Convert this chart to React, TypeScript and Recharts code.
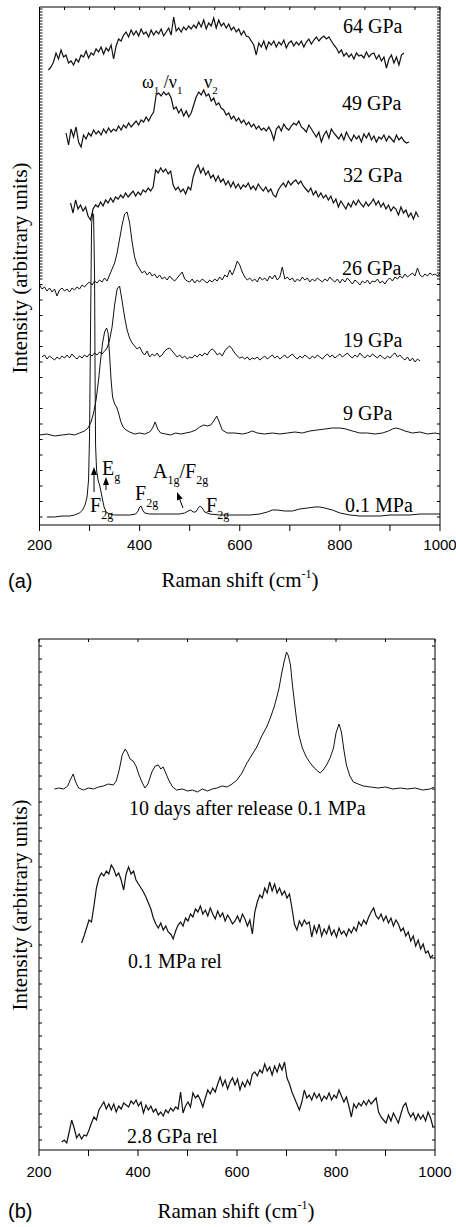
import { Line, LineChart, XAxis, YAxis } from "recharts";

// panel (a): intensities in plot units (0 = bottom of frame), x in cm-1
const gpa64Start = 218;
const gpa64 = [
  455, 458, 463, 472, 466, 475, 468, 470, 462, 464,
  460, 466, 463, 470, 468, 474, 467, 472, 470, 476,
  473, 478, 471, 477, 474, 480, 466, 479, 486, 484,
  490, 493, 488, 495, 490, 494, 489, 496, 491, 493,
  488, 495, 490, 494, 491, 496, 489, 493, 497, 490,
  508, 494, 497, 493, 498, 495, 499, 496, 500, 497,
  503, 498, 505, 496, 502, 499, 507, 497, 505, 499,
  502, 497, 501, 495, 498, 493, 496, 490, 494, 489,
  488, 484, 480, 470, 482, 478, 484, 476, 483, 480,
  484, 478, 483, 480, 485, 477, 482, 484, 479, 483,
  480, 484, 478, 483, 486, 481, 485, 488, 484, 487,
  489, 486, 488, 484, 480, 477, 472, 475, 469, 472,
  468, 471, 466, 472, 469, 470, 467, 473, 468, 471,
  472, 466, 470, 464, 468, 457, 466, 470, 462, 468,
  460, 470, 472,
];

const gpa49Start = 253;
const gpa49 = [
  392, 380, 396, 388, 398, 383, 378, 390, 386, 392,
  389, 395, 391, 394, 390, 396, 392, 397, 393, 396,
  394, 399, 395, 400, 397, 402, 398, 401, 404, 400,
  405, 403, 408, 404, 409, 413, 430, 432, 429, 433,
  430, 432, 427, 416, 418, 412, 416, 409, 414, 408,
  412, 420, 428, 433, 430, 435, 429, 431, 424, 427,
  420, 422, 417, 415, 410, 412, 406, 409, 404, 407,
  402, 405, 400, 403, 398, 401, 396, 399, 395, 397,
  394, 398, 393, 385, 396, 399, 394, 401, 397, 395,
  399, 402, 400, 404, 398, 396, 393, 400, 396, 392,
  388, 393, 383, 390, 394, 387, 396, 392, 389, 386,
  391, 385, 393, 388, 384, 390, 386, 389, 383, 391,
  387, 392, 385, 389, 383, 388, 386, 390, 384, 389,
  386, 383, 390, 385, 388, 384, 382, 383,
];

const gpa32Start = 262;
const gpa32 = [
  322, 312, 325, 316, 320, 314, 318, 309, 305, 316,
  320, 318, 323, 319, 325, 322, 327, 323, 328, 326,
  330, 327, 332, 328, 331, 334, 329, 333, 330, 335,
  333, 337, 334, 338, 355, 352, 357, 353, 356, 351,
  354, 340, 335, 338, 333, 336, 331, 338, 335, 348,
  356, 360, 352, 357, 350, 354, 347, 350, 344, 349,
  343, 346, 340, 344, 338, 343, 337, 341, 336, 340,
  338, 342, 336, 339, 335, 341, 337, 334, 338, 333,
  336, 330, 328, 335, 339, 342, 338, 344, 340, 343,
  345, 341, 344, 339, 336, 333, 337, 330, 334, 328,
  332, 327, 330, 325, 329, 322, 326, 318, 324, 320,
  316, 322, 318, 324, 320, 325, 321, 318, 323, 319,
  322, 326, 320, 324, 318, 322, 316, 320, 314, 318,
  316, 310, 318, 312, 315, 308, 312, 306, 313, 308,
];

const gpa26Start = 200;
const gpa26 = [
  240, 236, 238, 234, 237, 233, 236, 229, 235, 237,
  234, 236, 233, 237, 235, 238, 236, 240, 238, 241,
  243, 240, 244, 242, 245, 243, 247, 244, 250, 256,
  262, 272, 286, 300, 311, 313, 302, 283, 268, 260,
  256, 252, 254, 250, 253, 249, 251, 247, 250, 246,
  248, 245, 249, 246, 244, 247, 250, 253, 246, 244,
  243, 246, 242, 245, 243, 246, 244, 242, 245, 243,
  246, 244, 248, 245, 250, 248, 255, 250, 256, 264,
  260, 253, 248, 245, 247, 244, 246, 243, 248, 245,
  247, 244, 249, 246, 250, 245, 248, 258, 246, 248,
  245, 247, 243, 246, 244, 248, 245, 247, 243, 246,
  244, 247, 245, 243, 246, 244, 248, 245, 243, 246,
  242, 246, 243, 247, 244, 241, 245, 243, 240, 244,
  242, 245, 241, 244, 243, 246, 242, 244, 241, 245,
  247, 244, 248, 246, 249, 247, 251, 248, 250, 252,
  249, 257, 250, 248, 251, 249, 252, 250, 251, 249,
  252,
];

const gpa19Start = 205;
const gpa19 = [
  168, 170, 166, 169, 167, 165, 168, 166, 169, 167,
  170, 167, 171, 168, 166, 169, 167, 170, 168, 171,
  169, 172, 170, 173, 171, 174, 177, 185, 198, 220,
  236, 239, 224, 208, 195, 187, 182, 179, 176, 178,
  173, 170, 174, 168, 171, 169, 172, 168, 170, 174,
  176, 177, 174, 171, 168, 170, 167, 169, 166, 168,
  167, 170, 168, 171, 169, 172, 170, 174, 176, 174,
  170, 172, 169, 174, 177, 179, 176, 172, 169, 167,
  168, 166, 168, 165, 167, 166, 168, 165, 167, 169,
  166, 168, 170, 167, 169, 166, 168, 170, 167, 169,
  171, 168, 166, 169, 167, 170, 168, 166, 169, 167,
  170, 168, 166, 169, 171, 168, 170, 167, 169, 171,
  168, 170, 172, 169, 167, 170, 168, 172, 169, 167,
  170, 168, 171, 169, 167, 170, 168, 166, 169, 167,
  170, 172, 168, 170, 167, 165, 168, 164, 167, 163,
  166, 164,
];

const gpa9: [number, number][] = [
  [200, 90], [215, 91], [230, 89], [245, 90], [260, 91], [270, 90], [280, 92],
  [290, 94], [297, 97], [303, 103], [308, 112], [313, 125], [318, 145], [322, 165],
  [326, 182], [330, 193], [334, 197], [337, 192], [340, 170], [343, 145], [346, 128],
  [350, 121], [354, 118], [358, 112], [362, 104], [367, 98], [373, 95], [380, 93],
  [390, 91], [400, 92], [410, 91], [420, 93], [426, 97], [431, 103], [436, 96],
  [442, 92], [452, 91], [462, 90], [472, 92], [482, 91], [492, 92], [502, 93],
  [512, 95], [520, 98], [528, 100], [535, 99], [542, 100], [548, 104], [554, 109],
  [559, 103], [565, 95], [575, 92], [590, 92], [605, 91], [615, 92], [625, 94],
  [635, 92], [650, 91], [665, 92], [680, 91], [695, 92], [710, 93], [725, 92],
  [740, 94], [755, 95], [770, 96], [785, 97], [800, 97], [812, 96], [825, 94],
  [840, 92], [855, 92], [870, 91], [885, 92], [897, 94], [905, 96], [912, 97],
  [920, 96], [930, 94], [945, 92], [960, 93], [975, 91], [990, 92], [1000, 91],
];

const mpa01: [number, number][] = [
  [215, 8], [230, 8], [245, 9], [260, 9], [270, 10], [280, 12], [286, 15], [291, 20],
  [295, 28], [298, 45], [300, 90], [302, 200], [304, 300], [306, 312], [308, 310],
  [310, 250], [311, 150], [312, 80], [314, 55], [317, 45], [320, 40], [323, 33],
  [326, 25], [329, 18], [333, 13], [340, 11], [350, 10], [365, 10], [380, 10],
  [392, 11], [397, 14], [400, 18], [403, 19], [406, 15], [410, 12], [420, 11],
  [440, 11], [460, 11], [480, 11], [490, 12], [497, 14], [502, 15], [507, 13],
  [512, 13], [517, 17], [521, 19], [525, 17], [530, 13], [540, 11], [560, 10],
  [580, 10], [600, 10], [620, 10], [640, 11], [655, 13], [665, 15], [675, 15],
  [690, 14], [705, 14], [720, 16], [735, 17], [750, 18], [760, 18], [770, 17],
  [785, 15], [800, 12], [820, 10], [840, 9], [860, 9], [880, 9], [900, 10],
  [920, 10], [940, 10], [960, 11], [980, 11], [1000, 11],
];

// panel (b)
const tenDays: [number, number][] = [
  [231, 361], [240, 362], [250, 361], [258, 364], [263, 370], [269, 376], [274, 368],
  [280, 362], [290, 360], [300, 362], [310, 361], [320, 363], [330, 364], [340, 366],
  [350, 365], [356, 369], [362, 380], [368, 395], [374, 401], [378, 398], [384, 391],
  [390, 389], [396, 384], [402, 375], [408, 368], [414, 362], [420, 366], [428, 378],
  [435, 384], [441, 385], [446, 381], [451, 383], [456, 377], [462, 370], [470, 363],
  [478, 360], [490, 361], [500, 359], [510, 360], [520, 358], [530, 361], [540, 359],
  [550, 361], [560, 362], [570, 364], [580, 363], [590, 366], [600, 370], [610, 377],
  [620, 387], [630, 395], [640, 403], [650, 414], [660, 423], [668, 433], [675, 443],
  [680, 452], [685, 462], [690, 476], [695, 488], [700, 498], [704, 494], [708, 485],
  [712, 465], [716, 448], [720, 432], [725, 415], [732, 402], [740, 393], [748, 387],
  [756, 382], [763, 379], [768, 377], [774, 380], [781, 385], [788, 392], [795, 402],
  [800, 417], [806, 426], [811, 418], [816, 400], [821, 385], [828, 374], [835, 368],
  [845, 366], [855, 364], [870, 363], [885, 362], [900, 363], [915, 361], [930, 362],
  [945, 361], [960, 362], [975, 360], [990, 361], [998, 363],
];

const relMpaStart = 286;
const relMpa = [
  207, 214, 222, 230, 228, 244, 262, 272, 277, 274,
  279, 276, 285, 281, 274, 277, 270, 260, 276, 283,
  276, 279, 270, 266, 262, 258, 253, 247, 241, 232,
  226, 222, 227, 220, 224, 218, 216, 211, 219, 225,
  228, 224, 232, 229, 236, 233, 241, 238, 244, 236,
  240, 234, 242, 236, 231, 239, 233, 237, 229, 235,
  231, 226, 229, 234, 228, 236, 231, 224, 230, 216,
  238, 248, 255, 252, 262, 257, 268, 259, 266, 257,
  262, 255, 259, 252, 256, 242, 226, 220, 229, 224,
  230, 226, 228, 213, 224, 217, 226, 214, 221, 216,
  224, 215, 220, 213, 222, 216, 219, 214, 221, 217,
  223, 219, 228, 224, 230, 226, 233, 238, 242, 234,
  231, 236, 229, 234, 227, 232, 224, 230, 226, 219,
  222, 214, 218, 209, 214, 204, 210, 201, 206, 197,
  199, 192, 195,
];

const relGpaStart = 246;
const relGpa = [
  8, 10, 7, 18, 30, 22, 12, 16, 11, 15,
  14, 20, 27, 33, 30, 40, 44, 48, 41, 46,
  40, 46, 38, 44, 41, 47, 45, 43, 49, 46,
  50, 44, 48, 37, 45, 40, 44, 38, 41, 35,
  38, 34, 40, 37, 42, 39, 43, 41, 58, 37,
  44, 48, 43, 57, 52, 55, 50, 43, 52, 60,
  56, 62, 58, 66, 73, 64, 70, 61, 68, 72,
  65, 71, 60, 68, 63, 70, 65, 76, 78, 74,
  80, 77, 86, 79, 83, 75, 84, 78, 86, 80,
  88, 72, 66, 58, 52, 46, 40, 48, 60, 52,
  55, 50, 57, 52, 56, 49, 54, 51, 57, 50,
  55, 52, 60, 54, 48, 53, 44, 33, 46, 42,
  47, 44, 49, 45, 50, 46, 49, 52, 38, 33,
  30, 27, 35, 29, 37, 32, 27, 36, 44, 47,
  38, 33, 37, 30, 36, 31, 35, 29, 38, 32,
  23,
];

const xTicks = [200, 300, 400, 500, 600, 700, 800, 900, 1000];
const topTicksA = [200, 250, 300, 350, 400, 450, 500, 550, 600, 650, 700, 750, 800, 850, 900, 950, 1000];

const serif = '"Liberation Serif", "Times New Roman", Times, serif';
const sans = '"Liberation Sans", Arial, Helvetica, sans-serif';
const ink = "#111";

function stepped(start: number, ys: number[]) {
  return ys.map((y, i) => ({ x: start + i * 5, y }));
}
function paired(pts: [number, number][]) {
  return pts.map(([x, y]) => ({ x, y }));
}

// frame ticks on the side axes: sparse low, dense high (as in the original panel a)
const sideTicksA = [
  ...Array.from({ length: 16 }, (_, i) => 8 + i * 15.5),
  ...Array.from({ length: 91 }, (_, i) => 246 + i * 3),
];
const sideTicksB = Array.from({ length: 39 }, (_, i) => 10 + i * 13);

type Curve = { key: string; data: { x: number; y: number }[]; width?: number };

function SpectrumPanel({
  height,
  margin,
  yMax,
  sideTicks,
  topTicks,
  tickMargin,
  curves,
}: {
  height: number;
  margin: { top: number; right: number; bottom: number; left: number };
  yMax: number;
  sideTicks: number[];
  topTicks: number[];
  tickMargin: number;
  curves: Curve[];
}) {
  const axisStroke = { stroke: "#000", strokeWidth: 1 };
  return (
    <LineChart width={456} height={height} margin={margin}>
      <XAxis
        xAxisId="bottom"
        type="number"
        dataKey="x"
        domain={[200, 1000]}
        allowDataOverflow
        ticks={xTicks}
        interval={0}
        height={30}
        tickSize={6}
        tickMargin={tickMargin}
        tickFormatter={(v: number) => (v % 200 === 0 ? String(v) : "")}
        tick={{ fontSize: 15, fill: "#000", fontFamily: sans }}
        axisLine={axisStroke}
        tickLine={axisStroke}
      />
      <XAxis
        xAxisId="top"
        orientation="top"
        mirror
        type="number"
        dataKey="x"
        domain={[200, 1000]}
        allowDataOverflow
        ticks={topTicks}
        interval={0}
        tickSize={3}
        tickFormatter={() => ""}
        axisLine={axisStroke}
        tickLine={axisStroke}
      />
      <YAxis
        yAxisId="left"
        mirror
        type="number"
        domain={[0, yMax]}
        allowDataOverflow
        ticks={sideTicks}
        interval={0}
        tickSize={3}
        tickFormatter={() => ""}
        axisLine={axisStroke}
        tickLine={axisStroke}
      />
      <YAxis
        yAxisId="right"
        orientation="right"
        mirror
        type="number"
        domain={[0, yMax]}
        allowDataOverflow
        ticks={sideTicks}
        interval={0}
        tickSize={3}
        tickFormatter={() => ""}
        axisLine={axisStroke}
        tickLine={axisStroke}
      />
      {curves.map((c) => (
        <Line
          key={c.key}
          xAxisId="bottom"
          yAxisId="left"
          data={c.data}
          dataKey="y"
          type="linear"
          stroke={ink}
          strokeWidth={c.width ?? 1}
          dot={false}
          activeDot={false}
          isAnimationActive={false}
        />
      ))}
    </LineChart>
  );
}

const curvesA: Curve[] = [
  { key: "64", data: stepped(gpa64Start, gpa64), width: 1.2 },
  { key: "49", data: stepped(gpa49Start, gpa49), width: 1.2 },
  { key: "32", data: stepped(gpa32Start, gpa32), width: 1.2 },
  { key: "26", data: stepped(gpa26Start, gpa26) },
  { key: "19", data: stepped(gpa19Start, gpa19) },
  { key: "9", data: paired(gpa9) },
  { key: "0.1", data: paired(mpa01) },
];

const curvesB: Curve[] = [
  { key: "10d", data: paired(tenDays) },
  { key: "rel01", data: stepped(relMpaStart, relMpa), width: 1.2 },
  { key: "rel28", data: stepped(relGpaStart, relGpa), width: 1.2 },
];

function Arrow({ x1, y1, x2, y2 }: { x1: number; y1: number; x2: number; y2: number }) {
  const a = Math.atan2(y2 - y1, x2 - x1);
  const len = 8;
  const w = 3;
  const bx = x2 - len * Math.cos(a);
  const by = y2 - len * Math.sin(a);
  const px = -Math.sin(a) * w;
  const py = Math.cos(a) * w;
  return (
    <g>
      <line x1={x1} y1={y1} x2={bx} y2={by} stroke="#000" strokeWidth={1} />
      <polygon points={`${x2},${y2} ${bx + px},${by + py} ${bx - px},${by - py}`} fill="#000" />
    </g>
  );
}

export default function App() {
  return (
    <div style={{ position: "absolute", left: 0, top: 0, width: 456, height: 1227, background: "#fff" }}>
      <div style={{ position: "absolute", left: 0, top: 0 }}>
        <SpectrumPanel
          height={600}
          margin={{ top: 7, right: 16, bottom: 45, left: 39.5 }}
          yMax={518}
          sideTicks={sideTicksA}
          topTicks={topTicksA}
          tickMargin={8}
          curves={curvesA}
        />
      </div>
      <div style={{ position: "absolute", left: 0, top: 600 }}>
        <SpectrumPanel
          height={627}
          margin={{ top: 39, right: 21, bottom: 47, left: 39 }}
          yMax={511}
          sideTicks={sideTicksB}
          topTicks={xTicks}
          tickMargin={10}
          curves={curvesB}
        />
      </div>
      <svg
        width={456}
        height={1227}
        style={{ position: "absolute", left: 0, top: 0, pointerEvents: "none" }}
      >
        <g style={{ fontFamily: serif }} fill="#000">
          {/* panel (a) pressure labels */}
          <text x={343} y={33} fontSize={20}>64 GPa</text>
          <text x={342} y={110} fontSize={20}>49 GPa</text>
          <text x={343} y={182} fontSize={20}>32 GPa</text>
          <text x={342} y={275} fontSize={20}>26 GPa</text>
          <text x={343} y={347} fontSize={20}>19 GPa</text>
          <text x={343} y={420} fontSize={20}>9 GPa</text>
          <text x={345} y={512} fontSize={20}>0.1 MPa</text>

          <text x={142} y={88} fontSize={18}>
            ω<tspan fontSize={11} dy={6}>1</tspan>
            <tspan dy={-6}> /ν</tspan>
            <tspan fontSize={11} dy={6}>1</tspan>
          </text>
          <text x={204} y={88} fontSize={18}>
            ν<tspan fontSize={11} dy={6}>2</tspan>
          </text>

          {/* mode assignments */}
          <text x={102} y={475} fontSize={20}>
            E<tspan fontSize={12} dy={6}>g</tspan>
          </text>
          <text x={90} y={512} fontSize={20}>
            F<tspan fontSize={12} dy={7}>2g</tspan>
          </text>
          <text x={135} y={500} fontSize={20}>
            F<tspan fontSize={12} dy={7}>2g</tspan>
          </text>
          <text x={153} y={478} fontSize={20}>
            A<tspan fontSize={12} dy={6}>1g</tspan>
            <tspan dy={-6}>/F</tspan>
            <tspan fontSize={12} dy={6}>2g</tspan>
          </text>
          <text x={206} y={512} fontSize={20}>
            F<tspan fontSize={12} dy={7}>2g</tspan>
          </text>

          {/* panel (b) labels */}
          <text x={129} y={815} fontSize={20}>10 days after release 0.1 MPa</text>
          <text x={128} y={968} fontSize={20}>0.1 MPa rel</text>
          <text x={127} y={1143} fontSize={20}>2.8 GPa rel</text>

          {/* axis titles */}
          <text x={240} y={587} fontSize={21} textAnchor="middle">
            Raman shift (cm<tspan fontSize={12} dy={-9}>-1</tspan>
            <tspan dy={9}>)</tspan>
          </text>
          <text x={236} y={1218} fontSize={21} textAnchor="middle">
            Raman shift (cm<tspan fontSize={12} dy={-9}>-1</tspan>
            <tspan dy={9}>)</tspan>
          </text>
          <text x={27} y={268} fontSize={21} textAnchor="middle" transform="rotate(-90 27 268)">
            Intensity (arbitrary units)
          </text>
          <text x={27} y={905} fontSize={21} textAnchor="middle" transform="rotate(-90 27 905)">
            Intensity (arbitrary units)
          </text>
        </g>
        <g style={{ fontFamily: sans }} fill="#000" fontSize={20}>
          <text x={8} y={588}>(a)</text>
          <text x={8} y={1218}>(b)</text>
        </g>
        <Arrow x1={94} y1={492} x2={94} y2={467} />
        <Arrow x1={106} y1={490} x2={106} y2={477} />
        <Arrow x1={183} y1={508} x2={177} y2={492} />
      </svg>
    </div>
  );
}
